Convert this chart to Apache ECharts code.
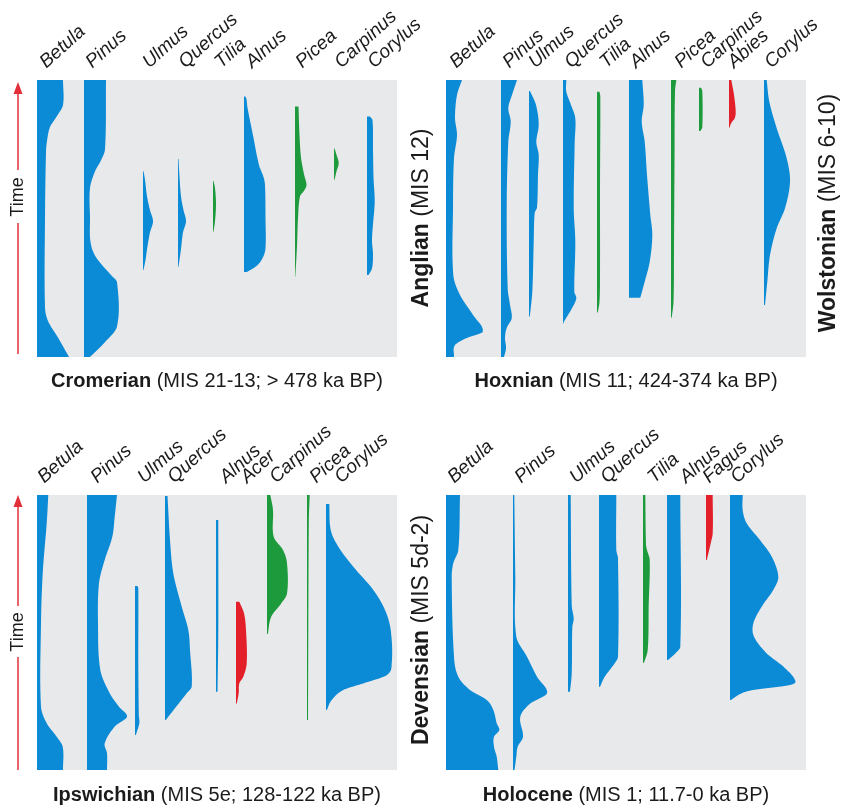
<!DOCTYPE html>
<html>
<head>
<meta charset="utf-8">
<script src="https://cdn.jsdelivr.net/npm/echarts@6/dist/echarts.min.js"></script>
<style>
  html, body { margin: 0; padding: 0; background: #ffffff; }
  #chart { width: 841px; height: 808px; }
</style>
</head>
<body>
<div id="chart"></div>
<script>
// ---------------------------------------------------------------------------
// Interglacial stages (panels) and the cold stages between them
// ---------------------------------------------------------------------------
const stageNames = ['Cromerian', 'Hoxnian', 'Ipswichian', 'Holocene'];
const stageNotes = ['(MIS 21-13; > 478 ka BP)', '(MIS 11; 424-374 ka BP)',
                    '(MIS 5e; 128-122 ka BP)', '(MIS 1; 11.7-0 ka BP)'];
const coldNames = ['Anglian', 'Wolstonian', 'Devensian'];
const coldNotes = ['(MIS 12)', '(MIS 6-10)', '(MIS 5d-2)'];

// Each curve: [relative age (0 = end of stage, 100 = start), abundance]
// ---------------- Cromerian ----------------
const cromerianTaxa = ['Betula', 'Pinus', 'Ulmus', 'Quercus', 'Tilia', 'Alnus', 'Picea', 'Carpinus', 'Corylus'];
const cromerianCurves = [
  [[0,26],[9,26],[13,20],[17,13],[22,10],[26,9],[50,8],[82,8],[87,11],[93,21],[100,32]],
  [[0,22],[25,21],[29,17],[33,11],[39,6],[50,6],[58.5,6.5],[64,12],[70.4,27],[73,33],[89,33],[95,20],[100,6]],
  [[32.9,0.5],[36,2],[42,4],[47,7],[51,10],[55,7],[60,4.5],[65,2.5],[68.6,0.5]],
  [[28.5,0.5],[35,1.5],[42,3],[47,5.5],[51,8],[55,5],[61,3],[67.4,0.5]],
  [[36.5,0.5],[39,2],[45,3],[51,2],[54.8,0.5]],
  [[6,1.5],[7,2.5],[10,3.5],[20,9],[30.7,15],[35,19.5],[38,21],[50,21.5],[60.6,21.5],[64,19],[67,13],[69.3,3]],
  [[9.6,3.5],[20,4.5],[28,6],[34,9],[38,11.5],[40,9],[42,5],[50,3],[60,2],[71,0.3]],
  [[24.7,0.5],[27,2.5],[30,4.7],[33,2.5],[36,0.5]],
  [[13.2,3],[14.5,5.5],[25,6],[35,6.5],[44,7.7],[52,6],[58,5],[63,6],[68,5],[70.4,1.5]]
];
// ---------------- Hoxnian ----------------
const hoxnianTaxa = ['Betula', 'Pinus', 'Ulmus', 'Quercus', 'Tilia', 'Alnus', 'Picea', 'Carpinus', 'Abies', 'Corylus'];
const hoxnianCurves = [
  [[0,16],[5.4,11],[13.7,9],[19.9,11],[28.2,8],[46,7],[70.4,7.3],[77.6,14],[84.8,27],[90.9,36.7],[93.1,21],[95.7,9],[100,8]],
  [[0,16],[5.4,11],[10.1,7.3],[15,9.7],[22.3,7.3],[46,5.7],[75.2,6.7],[81.2,9],[86,10.7],[89.5,5.7],[93,4],[96.8,5],[100,3]],
  [[4,1],[9,7],[16.2,9.7],[22.3,7.3],[27,9.7],[34,9],[46,8],[48,5.7],[58.4,4.7],[76.4,3.3],[85.4,0.8]],
  [[0,3.3],[4.2,3.3],[9,8],[13.8,12.3],[22.3,11.7],[46,10.7],[58.4,12.3],[76.4,11.3],[78.8,13.3],[82.4,9],[87.2,1],[88,0.3]],
  [[4.2,2.5],[6,3.3],[40,3],[70,3],[80,2.5],[83.9,0.8]],
  [[0,13.3],[9,14.7],[15,12.7],[22.3,15.7],[34.3,18],[48.7,21.3],[56,23.3],[65.6,20.7],[72.8,15.7],[78.6,11.3]],
  [[0,5.3],[4,4],[30,3.5],[60,3],[80,2.5],[85.8,0.7]],
  [[2.8,2],[4,3.3],[17,3.3],[18.4,1.5]],
  [[0,2.3],[5.4,5],[11.4,6.7],[13.8,5.7],[15.5,2.3],[17.2,0.5]],
  [[0,2.7],[7.8,5.3],[17.4,12.7],[28.3,22.7],[36.7,26],[46.3,21],[53.5,12.7],[63.2,6],[72.8,3.3],[81.2,1]]
];
// ---------------- Ipswichian ----------------
const ipswichianTaxa = ['Betula', 'Pinus', 'Ulmus', 'Quercus', 'Alnus', 'Acer', 'Carpinus', 'Picea', 'Corylus'];
const ipswichianCurves = [
  [[0,11.3],[10.3,9.7],[28.5,5.7],[46.7,4],[77,4],[83,9.7],[87.9,19.7],[91.5,25.7],[100,26]],
  [[0,30],[7.9,27.7],[15.2,25.3],[23.6,17.7],[32.1,12],[46.7,11],[63.6,13.3],[72.1,22.7],[77,32],[80.6,40],[84.2,27.7],[90.3,17.7],[93.9,20],[100,20]],
  [[33.1,2.5],[34,3.3],[60,3.3],[80,3.8],[83,4.3],[87.3,0.8]],
  [[0.4,2.5],[16.4,5],[28.5,8.3],[40.6,16.7],[49.1,23.3],[56.4,25],[69.7,26.7],[72.1,21.7],[81.8,0.8]],
  [[9.1,2.3],[50,2.3],[71.5,1.5]],
  [[38.8,3.3],[43,8],[49.1,10],[61.2,10.7],[66.1,7.3],[68.5,3.3],[72,2.7],[75.8,0.8]],
  [[0,3.3],[5.5,6],[15.2,6.7],[20,16],[24.8,20],[35.8,20],[39.4,14.3],[44.2,4.3],[50.5,0.8]],
  [[0,2.7],[10,1.8],[81.8,1]],
  [[3.3,3.3],[12.7,4.7],[18.8,12.3],[26.1,27.3],[34.5,47.3],[41.8,59],[49.1,64.7],[61.2,65.7],[65.5,60.7],[68.5,37.3],[70.9,17.3],[74.5,5.7],[78.2,0.8]]
];
// ---------------- Holocene ----------------
const holoceneTaxa = ['Betula', 'Pinus', 'Ulmus', 'Quercus', 'Tilia', 'Alnus', 'Fagus', 'Corylus'];
const holoceneCurves = [
  [[0,14],[20,12.3],[24.8,7.3],[29.7,5.7],[58.8,8],[66.1,12.3],[70.9,24],[74.5,40.7],[78.2,47.3],[83,50.7],[85.5,53.3],[87.9,48],[91.5,48],[95.2,50.7],[100,52.3]],
  [[0,1.3],[30,2.3],[51.5,3.3],[58.8,14],[66.1,24],[72.1,34],[75.8,17.3],[80.6,7.3],[87.9,10],[91.5,4.7],[95.2,3.3],[100,1.5]],
  [[0,2.7],[40,3.7],[45,5.7],[48,4.3],[65,3.7],[71.5,2]],
  [[0,17.3],[20,17.3],[23,19],[58.8,19],[61.2,15.7],[66.1,5.7],[69.7,1]],
  [[0,2.3],[18,3],[20,4],[23.6,6.7],[40,5.7],[56.4,4.7],[61,1]],
  [[0,13.3],[55.2,13.3],[57.6,8.3],[60,1]],
  [[0,6.7],[13.9,6.7],[17.6,4.7],[23.6,0.8]],
  [[0,12.7],[5.5,12.7],[10.3,16.7],[16.4,30],[22.4,41.7],[29.7,48.3],[34.5,43.3],[40.6,31.7],[46.7,23.3],[51.5,24],[57.6,36.7],[62.4,53.3],[67.3,65],[69.1,60],[70.9,23.3],[72.1,11.7],[74.5,1]]
];

// ---------------------------------------------------------------------------
// Layout: where each taxon column starts along its panel (0-360) and where its
// name sits; panel boxes in pixels.
// ---------------------------------------------------------------------------
const layout = [
  { grid: { left: 37,  top: 80,  width: 360, height: 277 },
    origin:  [0, 47, 106, 141, 176, 207, 258, 297, 330],
    labelAt: [5, 51, 108, 144, 180, 211, 261, 300, 333] },
  { grid: { left: 446, top: 80,  width: 360, height: 277 },
    origin:  [0, 55, 83, 117, 151, 183, 225, 253, 283, 318],
    labelAt: [6, 59, 85, 121, 156, 186, 231, 257, 284, 321] },
  { grid: { left: 37,  top: 495, width: 360, height: 275 },
    origin:  [0, 50, 98, 128, 179, 199, 230, 270, 289],
    labelAt: [3, 56, 103, 133, 185, 206, 235, 275, 300] },
  { grid: { left: 446, top: 495, width: 360, height: 275 },
    origin:  [0, 67, 122, 153, 197, 221, 260, 284],
    labelAt: [4, 71, 126, 157, 204, 236, 259, 287] }
];
const LABEL_DX = 7, LABEL_DY = -8;

const panelTaxa = [cromerianTaxa, hoxnianTaxa, ipswichianTaxa, holoceneTaxa];
const panelCurves = [cromerianCurves, hoxnianCurves, ipswichianCurves, holoceneCurves];

// Colours by taxon group
const BLUE = '#0b8ad5', GREEN = '#1d9a3b', RED = '#e3202a';
const greenTaxa = ['Tilia', 'Picea', 'Carpinus'];
const redTaxa = ['Abies', 'Acer', 'Fagus'];
function colourOf(name) {
  if (greenTaxa.indexOf(name) >= 0) return GREEN;
  if (redTaxa.indexOf(name) >= 0) return RED;
  return BLUE;
}

const FONT = '"Liberation Sans", Arial, Helvetica, sans-serif';
const TEXT = '#1b1b1b';
const LABEL_ANGLE = 42 * Math.PI / 180;

// Smooth abundance as a function of age (cubic Hermite, Catmull-Rom tangents)
function smoothCurve(points, steps) {
  const n = points.length;
  if (n < 3) return points.slice();
  const m = points.map((p, i) => {
    const a = points[Math.max(0, i - 1)], b = points[Math.min(n - 1, i + 1)];
    return (b[1] - a[1]) / (b[0] - a[0]);
  });
  const out = [];
  for (let i = 0; i < n - 1; i++) {
    const p0 = points[i], p1 = points[i + 1], h = p1[0] - p0[0];
    for (let s = 0; s < steps; s++) {
      const t = s / steps, t2 = t * t, t3 = t2 * t;
      const v = (2 * t3 - 3 * t2 + 1) * p0[1] + (t3 - 2 * t2 + t) * h * m[i] +
                (-2 * t3 + 3 * t2) * p1[1] + (t3 - t2) * h * m[i + 1];
      out.push([p0[0] + t * h, Math.max(0, v)]);
    }
  }
  out.push(points[n - 1]);
  return out;
}

function makeRenderer(k) {
  const names = panelTaxa[k], curves = panelCurves[k], lay = layout[k];
  return function (params, api) {
    const i = params.dataIndex;
    const x0 = api.value(0);
    const prof = curves[i];
    const dense = smoothCurve(prof, 10);
    const pts = [api.coord([x0, prof[0][0]])];
    dense.forEach(p => pts.push(api.coord([x0 + p[1], p[0]])));
    pts.push(api.coord([x0, prof[prof.length - 1][0]]));
    const lab = api.coord([lay.labelAt[i], 0]);
    return {
      type: 'group',
      children: [
        { type: 'polygon', shape: { points: pts }, style: { fill: colourOf(names[i]) } },
        { type: 'text', x: lab[0] + LABEL_DX, y: lab[1] + LABEL_DY, rotation: LABEL_ANGLE,
          style: { text: names[i], fill: TEXT, fontSize: 19, fontStyle: 'italic',
                   fontFamily: FONT, align: 'left', verticalAlign: 'bottom' } }
      ]
    };
  };
}

const grids = layout.map(l => Object.assign({ show: true, backgroundColor: '#e8e9ea', borderWidth: 0 }, l.grid));
const xAxes = layout.map((l, k) => ({ type: 'value', gridIndex: k, min: 0, max: 360, show: false }));
const yAxes = layout.map((l, k) => ({ type: 'value', gridIndex: k, min: 0, max: 100, inverse: true, show: false }));
const series = layout.map((l, k) => ({
  type: 'custom', xAxisIndex: k, yAxisIndex: k, silent: true,
  renderItem: makeRenderer(k),
  data: panelTaxa[k].map((name, i) => ({ name: name, value: [l.origin[i], 0] }))
}));

// Panel captions, cold-stage side labels and time arrows
const graphics = [];
const captionY = [381, 381, 795, 795];
layout.forEach((l, k) => {
  graphics.push({
    type: 'text', x: l.grid.left + l.grid.width / 2, y: captionY[k],
    style: { text: '{b|' + stageNames[k] + '} ' + stageNotes[k], fill: TEXT,
             fontSize: 20, fontFamily: FONT, align: 'center', verticalAlign: 'middle',
             rich: { b: { fontWeight: 'bold', fontSize: 20, fontFamily: FONT, fill: TEXT } } }
  });
});
const coldPos = [[422, 218], [829, 213], [422, 630]];
coldNames.forEach((n, k) => {
  graphics.push({
    type: 'text', x: coldPos[k][0], y: coldPos[k][1], rotation: Math.PI / 2,
    style: { text: '{b|' + n + '} ' + coldNotes[k], fill: TEXT,
             fontSize: 23, fontFamily: FONT, align: 'center', verticalAlign: 'middle',
             rich: { b: { fontWeight: 'bold', fontSize: 23, fontFamily: FONT, fill: TEXT } } }
  });
});
const ARROW = '#e2303a';
[[82, 170, 223, 354, 197], [495, 606, 657, 770, 632]].forEach(a => {
  graphics.push({ type: 'line', shape: { x1: 18, y1: a[0] + 10, x2: 18, y2: a[1] },
                  style: { stroke: ARROW, lineWidth: 1.5 } });
  graphics.push({ type: 'line', shape: { x1: 18, y1: a[2], x2: 18, y2: a[3] },
                  style: { stroke: ARROW, lineWidth: 1.5 } });
  graphics.push({ type: 'polygon', shape: { points: [[18, a[0]], [13.5, a[0] + 12], [22.5, a[0] + 12]] },
                  style: { fill: ARROW } });
  graphics.push({ type: 'text', x: 18, y: a[4], rotation: Math.PI / 2,
                  style: { text: 'Time', fill: TEXT, fontSize: 18, fontFamily: FONT,
                           align: 'center', verticalAlign: 'middle' } });
});

const chart = echarts.init(document.getElementById('chart'), null, { renderer: 'canvas' });
chart.setOption({
  animation: false,
  backgroundColor: '#ffffff',
  grid: grids,
  xAxis: xAxes,
  yAxis: yAxes,
  series: series,
  graphic: graphics
});
</script>
</body>
</html>
